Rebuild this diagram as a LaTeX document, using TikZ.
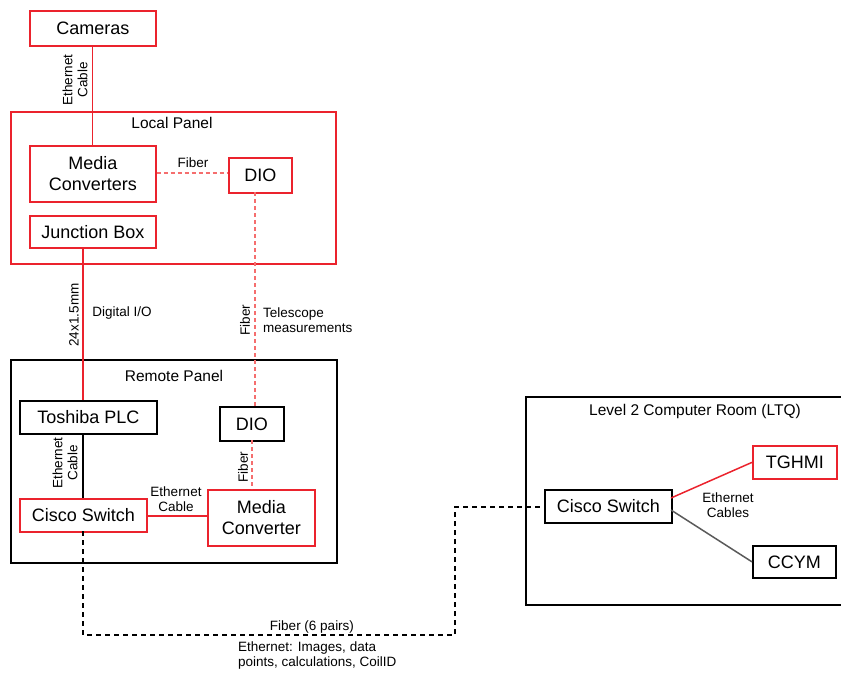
\documentclass[tikz,border=0pt]{standalone}
\usepackage{fontspec}
\setmainfont{Liberation Sans}
\definecolor{rd}{RGB}{235,35,45}
\definecolor{rdl}{RGB}{245,110,110}
\definecolor{gr}{RGB}{90,90,90}
\begin{document}
\begin{tikzpicture}[x=1pt,y=-1pt,
  box/.style={draw,line width=1.7pt,anchor=north west,inner sep=0pt,align=center,font=\fontsize{18}{21}\selectfont},
  rbox/.style={box,draw=rd},
  kbox/.style={box,draw=black},
  panel/.style={draw,line width=1.5pt},
  lbl/.style={font=\fontsize{13.5}{15}\selectfont,align=center,inner sep=0pt},
  ttl/.style={font=\fontsize{15.5}{17}\selectfont,inner sep=0pt},
  rline/.style={draw=rd,line width=1.5pt},
  rdash/.style={draw=rdl,line width=1.8pt,dash pattern=on 4pt off 3pt},
  kdash/.style={draw=black,line width=1.2pt,dash pattern=on 5pt off 4pt}]
\useasboundingbox (0,0) rectangle (841,675);
% panels
\draw[panel,draw=rd] (11,112) rectangle (336,264);
\node[ttl] at (172,123) {Local Panel};
\draw[panel,draw=black] (11,360) rectangle (337,563);
\node[ttl] at (174,376) {Remote Panel};
\draw[panel,draw=black] (526,397) rectangle (845,605);
\node[ttl] at (695,411) {Level 2 Computer Room (LTQ)};
% nodes
\node[rbox,minimum width=126pt,minimum height=35pt] (cam) at (29,10) {Cameras};
\node[rbox,minimum width=126pt,minimum height=56pt] (mc) at (29,145) {Media\\Converters};
\node[rbox,minimum width=63pt,minimum height=35pt] (dio) at (228,157) {DIO};
\node[rbox,minimum width=126pt,minimum height=32pt] (jb) at (29,215) {Junction Box};
\node[kbox,minimum width=137pt,minimum height=33pt] (plc) at (19,400) {Toshiba PLC};
\node[kbox,minimum width=64pt,minimum height=34pt] (rdio) at (219,406) {DIO};
\node[rbox,minimum width=127pt,minimum height=33pt] (cs) at (19,498) {Cisco Switch};
\node[rbox,minimum width=107pt,minimum height=56pt] (rmc) at (207,489) {Media\\Converter};
\node[kbox,minimum width=127pt,minimum height=33pt] (cs2) at (544,489) {Cisco Switch};
\node[rbox,minimum width=84pt,minimum height=33pt] (tg) at (752,445) {TGHMI};
\node[kbox,minimum width=83pt,minimum height=32pt] (cc) at (752,545) {CCYM};
% connectors
\draw[rline] (cam.south) ++(-0.5,0) coordinate (c1) -- (c1 |- mc.north);
\node[lbl,rotate=90] at (75,80) {Ethernet\\Cable};
\coordinate (f1) at (0,173);
\draw[rdash] (mc.east |- f1) -- (dio.west |- f1);
\node[lbl] at (193,163) {Fiber};
\coordinate (j1) at (83,247);
\draw[rline] (j1) -- (j1 |- plc.north);
\node[lbl,rotate=90] at (74,315) {24x1.5mm};
\node[lbl] at (122,313) {Digital I/O};
\coordinate (d1) at (255,192);
\draw[rdash] (d1) -- (d1 |- rdio.north);
\node[lbl,rotate=90] at (245,320) {Fiber};
\node[lbl,align=left,anchor=west] at (263,320) {Telescope\\measurements};
\coordinate (p1) at (83,433);
\draw[black,line width=1.2pt] (p1) -- (p1 |- cs.north);
\node[lbl,rotate=90] at (65,463) {Ethernet\\Cable};
\coordinate (e1) at (0,516);
\draw[rline] (cs.east |- e1) -- (rmc.west |- e1);
\node[lbl] at (176,499) {Ethernet\\Cable};
\coordinate (d2) at (252,440);
\draw[rdash] (d2) -- (d2 |- rmc.north);
\node[lbl,rotate=90] at (243,467) {Fiber};
\coordinate (s1) at (83,531);
\draw[kdash] (s1) -- (83,635) -- (455,635) -- (455,507) -- (cs2.west |- 0,507);
\node[lbl] at (312,627) {Fiber (6 pairs)};
\node[lbl,align=left,anchor=north west] at (238,642) {Ethernet: Images, data\\points, calculations, CoilID};
\draw[rline] (671,498) -- (tg.west);
\draw[draw=gr,line width=1.5pt] (671,510) -- (cc.west);
\node[lbl] at (728,505) {Ethernet\\Cables};
\end{tikzpicture}
\end{document}
